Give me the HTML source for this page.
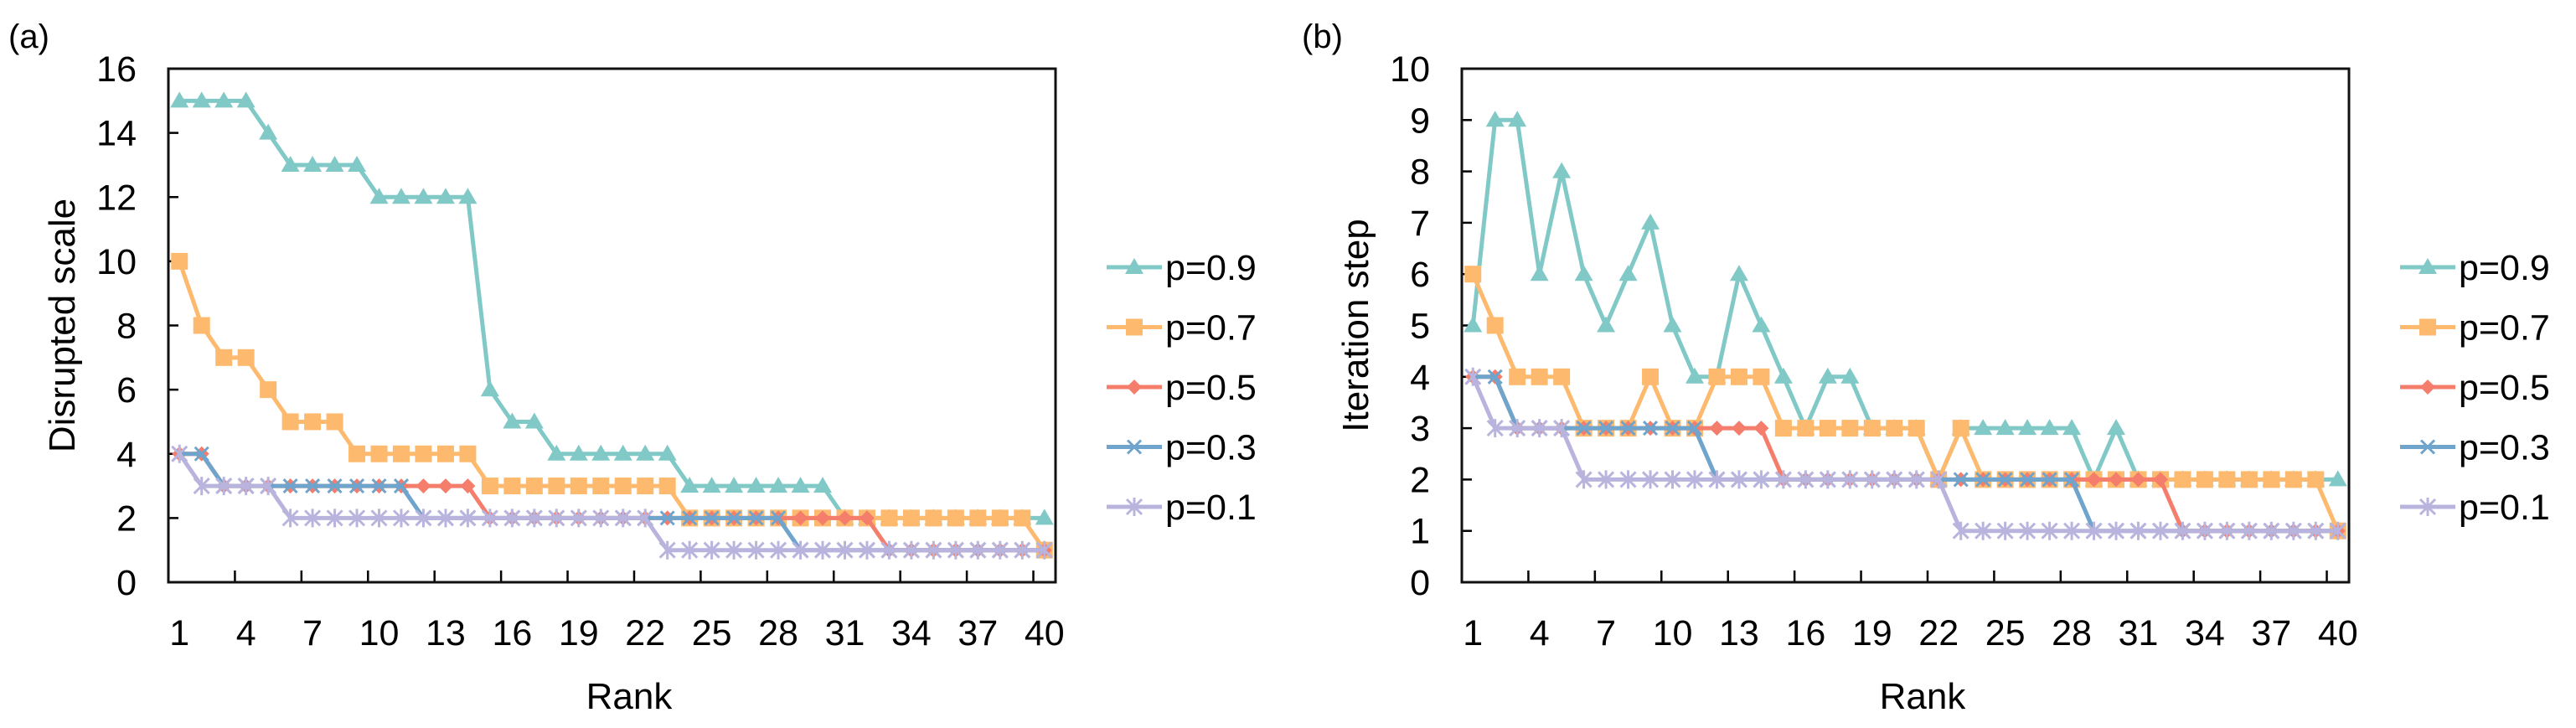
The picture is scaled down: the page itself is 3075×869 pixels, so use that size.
<!DOCTYPE html>
<html><head><meta charset="utf-8"><style>
html,body{margin:0;padding:0;background:#fff;}
svg{display:block;font-family:"Liberation Sans",Arial,sans-serif;}
</style></head>
<body>
<svg id="chart" width="3075" height="869" viewBox="0 0 3075 869" xmlns="http://www.w3.org/2000/svg"></svg>
<script>
const categories = Array.from({length:40},(_,i)=>i+1);
const seriesNames = ["p=0.9","p=0.7","p=0.5","p=0.3","p=0.1"];
const xTickLabels = [1,4,7,10,13,16,19,22,25,28,31,34,37,40];
const yTicksA = [0,2,4,6,8,10,12,14,16];
const yTicksB = [0,1,2,3,4,5,6,7,8,9,10];
const a09 = [15,15,15,15,14,13,13,13,13,12,12,12,12,12,6,5,5,4,4,4,4,4,4,3,3,3,3,3,3,3,2,2,2,2,2,2,2,2,2,2];
const a07 = [10,8,7,7,6,5,5,5,4,4,4,4,4,4,3,3,3,3,3,3,3,3,3,2,2,2,2,2,2,2,2,2,2,2,2,2,2,2,2,1];
const a05 = [4,4,3,3,3,3,3,3,3,3,3,3,3,3,2,2,2,2,2,2,2,2,2,2,2,2,2,2,2,2,2,2,1,1,1,1,1,1,1,1];
const a03 = [4,4,3,3,3,3,3,3,3,3,3,2,2,2,2,2,2,2,2,2,2,2,2,2,2,2,2,2,1,1,1,1,1,1,1,1,1,1,1,1];
const a01 = [4,3,3,3,3,2,2,2,2,2,2,2,2,2,2,2,2,2,2,2,2,2,1,1,1,1,1,1,1,1,1,1,1,1,1,1,1,1,1,1];
const b09 = [5,9,9,6,8,6,5,6,7,5,4,4,6,5,4,3,4,4,3,3,3,2,3,3,3,3,3,3,2,3,2,2,2,2,2,2,2,2,2,2];
const b07 = [6,5,4,4,4,3,3,3,4,3,3,4,4,4,3,3,3,3,3,3,3,2,3,2,2,2,2,2,2,2,2,2,2,2,2,2,2,2,2,1];
const b05 = [4,4,3,3,3,3,3,3,3,3,3,3,3,3,2,2,2,2,2,2,2,2,2,2,2,2,2,2,2,2,2,2,1,1,1,1,1,1,1,1];
const b03 = [4,4,3,3,3,3,3,3,3,3,3,2,2,2,2,2,2,2,2,2,2,2,2,2,2,2,2,2,1,1,1,1,1,1,1,1,1,1,1,1];
const b01 = [4,3,3,3,3,2,2,2,2,2,2,2,2,2,2,2,2,2,2,2,2,2,1,1,1,1,1,1,1,1,1,1,1,1,1,1,1,1,1,1];

const colors = ["#80C9C6","#FDBA6E","#F47D6C","#6FA4CC","#B9B4DD"];
const markers = ["tri","sq","dia","x","star"];
const NS = "http://www.w3.org/2000/svg";
const svg = document.getElementById('chart');
function el(tag, attrs, parent){const e=document.createElementNS(NS,tag);for(const k in attrs)e.setAttribute(k,attrs[k]);(parent||svg).appendChild(e);return e;}

function marker(g, type, x, y, c){
  let m;
  if(type==="tri"){m=el('polygon',{points:`${x},${y-11} ${x-11},${y+8} ${x+11},${y+8}`,fill:c},g);}
  else if(type==="sq"){m=el('rect',{x:x-10,y:y-10,width:20,height:20,fill:c},g);}
  else if(type==="dia"){m=el('polygon',{points:`${x},${y-9} ${x+9},${y} ${x},${y+9} ${x-9},${y}`,fill:c},g);}
  else if(type==="x"){m=el('path',{d:`M${x-8},${y-8}L${x+8},${y+8}M${x-8},${y+8}L${x+8},${y-8}`,stroke:c,'stroke-width':3,fill:'none'},g);}
  else {m=el('path',{d:`M${x-9},${y-9}L${x+9},${y+9}M${x-9},${y+9}L${x+9},${y-9}M${x},${y-11}L${x},${y+11}`,stroke:c,'stroke-width':3,fill:'none'},g);}
  
  
}

function panel(ox, label, ytitle, yTicks, ymax, series){
  const L=ox+201, R=ox+1260, T=82, B=695;
  const cw=(R-L)/categories.length;
  const xS=i=>L+(i+0.5)*cw;
  const yS=v=>B-(v/ymax)*(B-T);
  const g=el('g',{});
  
  
  const pl=el('text',{x:ox+10,y:57,'font-size':40,fill:'#000'},g);pl.textContent=label;
  
  
  // y ticks
  yTicks.forEach(v=>{
    const y=yS(v);
    const t=el('text',{x:L-38,y:y+15,'font-size':43,'text-anchor':'end',fill:'#000'},g);t.textContent=v;
    
    
    if(v>0&&v<ymax){const tk=el('line',{x1:L,x2:L+12,y1:y,y2:y,stroke:'#000','stroke-width':2.5},g);
      
      }
  });
  // x ticks at boundaries every 3
  for(let b=3;b<categories.length;b+=3){
    const x=L+b*cw;
    const tk=el('line',{x1:x,x2:x,y1:B,y2:B-14,stroke:'#000','stroke-width':2.5},g);
    
    
  }
  xTickLabels.forEach(c=>{
    const t=el('text',{x:xS(categories.indexOf(c)),y:770,'font-size':43,'text-anchor':'middle',fill:'#000'},g);t.textContent=c;
    
    
  });
  const xt=el('text',{x:ox+751,y:846,'font-size':44,'text-anchor':'middle',fill:'#000'},g);xt.textContent='Rank';
  
  
  const yt=el('text',{x:0,y:0,'font-size':44,'text-anchor':'middle',fill:'#000',transform:`translate(${ox+89},${(T+B)/2}) rotate(-90)`},g);yt.textContent=ytitle;
  
  
  // series
  series.forEach((vals,si)=>{
    const sg=el('g',{},g);
    
    
    const pts=vals.map((v,i)=>xS(i)+','+yS(v)).join(' ');
    const ln=el('polyline',{points:pts,fill:'none',stroke:colors[si],'stroke-width':5,'stroke-linejoin':'round'},sg);
    
    
    vals.forEach((v,i)=>marker(sg,markers[si],xS(i),yS(v),colors[si]));
  });
  const box=el('rect',{x:L,y:T,width:R-L,height:B-T,fill:'none',stroke:'#111','stroke-width':3},g);
  
  
  // legend
  const lg=el('g',{},g);
  
  
  seriesNames.forEach((n,si)=>{
    const y=319+si*71.5;
    const eg=el('g',{},lg);
    
    
    el('line',{x1:ox+1321,x2:ox+1387,y1:y,y2:y,stroke:colors[si],'stroke-width':5},eg);
    marker(eg,markers[si],ox+1354,y,colors[si]);
    const t=el('text',{x:ox+1391,y:y+15,'font-size':43,fill:'#000'},eg);t.textContent=n;
  });
}
panel(0,'(a)','Disrupted scale',yTicksA,16,[a09,a07,a05,a03,a01]);
panel(1544,'(b)','Iteration step',yTicksB,10,[b09,b07,b05,b03,b01]);
</script>
</body></html>
